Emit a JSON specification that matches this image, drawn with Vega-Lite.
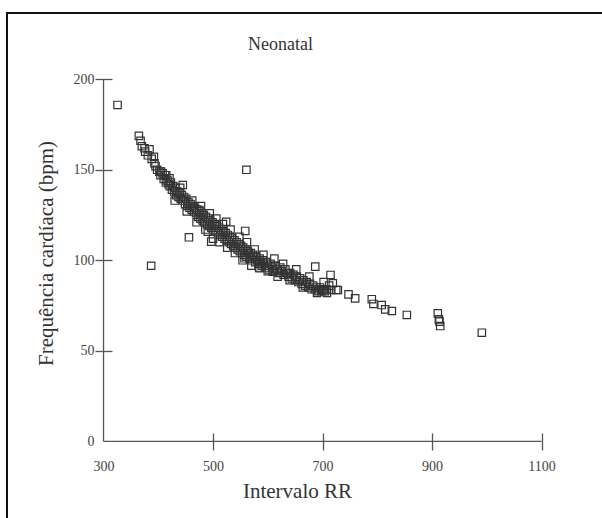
{
  "$schema": "https://vega.github.io/schema/vega-lite/v6.json",
  "width": 600,
  "height": 510,
  "autosize": "none",
  "padding": {"left": 7, "top": 13, "right": 0, "bottom": 0},
  "background": "white",
  "config": {
    "view": {"stroke": "#111", "strokeWidth": 2},
    "font": "Liberation Serif",
    "title": {"font": "Liberation Serif", "fontSize": 18, "fontWeight": "normal", "color": "#333"}
  },
  "title": {"text": "Neonatal", "anchor": "start", "dx": 241, "dy": 59, "baseline": "alphabetic"},
  "encoding": {
    "x": {
      "field": "rr", "type": "quantitative",
      "scale": {"domain": [123.7, 1219.6], "nice": false, "zero": false},
      "axis": {
        "orient": "bottom", "offset": -90, "values": [300, 500, 700, 900, 1100], "format": "d",
        "domain": false, "grid": false, "tickSize": 17, "tickColor": "#555", "tickWidth": 1.3,
        "tickOpacity": {"condition": {"test": "datum.value == 300", "value": 0}, "value": 1},
        "labelFont": "Liberation Serif", "labelFontSize": 14, "labelColor": "#444", "labelPadding": 9,
        "title": "Intervalo RR", "titleFont": "Liberation Serif", "titleFontSize": 21, "titleFontWeight": "normal", "titleColor": "#333",
        "titleX": 290, "titleY": 64, "titleBaseline": "alphabetic", "titleAlign": "center"
      }
    },
    "y": {
      "field": "hr", "type": "quantitative",
      "scale": {"domain": [-45.1, 236.6], "nice": false, "zero": false},
      "axis": {
        "orient": "left", "offset": -105, "values": [0, 50, 100, 150, 200], "format": "d",
        "domain": false, "grid": false, "tickSize": 17, "tickColor": "#555", "tickWidth": 1.3,
        "tickOpacity": {"condition": {"test": "datum.value == 0", "value": 0}, "value": 1},
        "labelFont": "Liberation Serif", "labelFontSize": 14, "labelColor": "#444", "labelPadding": 1,
        "title": "Frequência cardíaca (bpm)", "titleFont": "Liberation Serif", "titleFontSize": 21, "titleFontWeight": "normal", "titleColor": "#333",
        "titleX": -60, "titleY": 240, "titleBaseline": "alphabetic", "titleAlign": "center", "titleAngle": -90
      }
    }
  },
  "layer": [
    {
      "data": {"values": [
        {"rr": 300, "hr": 0, "rr2": 1100, "hr2": 0},
        {"rr": 300, "hr": 0, "rr2": 300, "hr2": 200}
      ]},
      "mark": {"type": "rule", "color": "#555", "strokeWidth": 1.3},
      "encoding": {"x2": {"field": "rr2"}, "y2": {"field": "hr2"}}
    },
    {
      "data": {"values": [
        {"rr": 325.6, "hr": 185.8}, {"rr": 561, "hr": 150}, {"rr": 387, "hr": 97}, {"rr": 456, "hr": 112.7}, {"rr": 991, "hr": 60},
        {"rr": 364.5, "hr": 168.7}, {"rr": 367.6, "hr": 166}, {"rr": 374.9, "hr": 161.9}, {"rr": 384, "hr": 161.3}, {"rr": 391.9, "hr": 157.2},
        {"rr": 388, "hr": 156}, {"rr": 393, "hr": 153.6}, {"rr": 405, "hr": 149}, {"rr": 414.5, "hr": 147}, {"rr": 420.5, "hr": 145.3}, {"rr": 444.8, "hr": 141.6},
        {"rr": 490.5, "hr": 115.8}, {"rr": 496.7, "hr": 110.3}, {"rr": 475, "hr": 127.8}, {"rr": 524, "hr": 121.3}, {"rr": 558.8, "hr": 116.2},
        {"rr": 557.5, "hr": 101.1}, {"rr": 585, "hr": 95.6}, {"rr": 609, "hr": 93.7}, {"rr": 686.7, "hr": 96.5}, {"rr": 658, "hr": 89}, {"rr": 636.7, "hr": 92.8},
        {"rr": 697.6, "hr": 83.6}, {"rr": 714.6, "hr": 91.9}, {"rr": 718.8, "hr": 87.3}, {"rr": 728, "hr": 83.6}, {"rr": 716, "hr": 83.6}, {"rr": 725, "hr": 83.6},
        {"rr": 747.5, "hr": 81.2}, {"rr": 759.6, "hr": 79}, {"rr": 790, "hr": 78.5}, {"rr": 793, "hr": 75.9}, {"rr": 808, "hr": 75.3}, {"rr": 814.5, "hr": 72.9},
        {"rr": 826.6, "hr": 72}, {"rr": 854, "hr": 69.8}, {"rr": 910.6, "hr": 70.7}, {"rr": 912.5, "hr": 67.4}, {"rr": 913.7, "hr": 66.1}, {"rr": 915, "hr": 63.7},
        {"rr": 370, "hr": 163}, {"rr": 376, "hr": 160}, {"rr": 381, "hr": 158}, {"rr": 395, "hr": 152}, {"rr": 398, "hr": 150}, {"rr": 402, "hr": 149},
        {"rr": 404, "hr": 147}, {"rr": 408, "hr": 148}, {"rr": 410, "hr": 145}, {"rr": 412, "hr": 147}, {"rr": 414, "hr": 143}, {"rr": 417, "hr": 144},
        {"rr": 419, "hr": 142}, {"rr": 421, "hr": 141}, {"rr": 423, "hr": 143}, {"rr": 425, "hr": 139}, {"rr": 427, "hr": 141}, {"rr": 429, "hr": 138},
        {"rr": 431, "hr": 140}, {"rr": 433, "hr": 136}, {"rr": 435, "hr": 138}, {"rr": 437, "hr": 135}, {"rr": 439, "hr": 137}, {"rr": 441, "hr": 134},
        {"rr": 443, "hr": 136}, {"rr": 445, "hr": 133}, {"rr": 447, "hr": 135}, {"rr": 449, "hr": 131}, {"rr": 451, "hr": 134}, {"rr": 453, "hr": 130},
        {"rr": 455, "hr": 132}, {"rr": 457, "hr": 129}, {"rr": 459, "hr": 131}, {"rr": 461, "hr": 128}, {"rr": 463, "hr": 130}, {"rr": 465, "hr": 127},
        {"rr": 467, "hr": 129}, {"rr": 469, "hr": 126}, {"rr": 471, "hr": 128}, {"rr": 473, "hr": 124}, {"rr": 475, "hr": 127}, {"rr": 477, "hr": 123},
        {"rr": 479, "hr": 126}, {"rr": 481, "hr": 122}, {"rr": 483, "hr": 125}, {"rr": 485, "hr": 121}, {"rr": 487, "hr": 124}, {"rr": 489, "hr": 120},
        {"rr": 491, "hr": 123}, {"rr": 493, "hr": 119}, {"rr": 495, "hr": 122}, {"rr": 497, "hr": 118}, {"rr": 499, "hr": 121}, {"rr": 501, "hr": 117},
        {"rr": 503, "hr": 120}, {"rr": 505, "hr": 116}, {"rr": 507, "hr": 119}, {"rr": 509, "hr": 115}, {"rr": 511, "hr": 118}, {"rr": 513, "hr": 114},
        {"rr": 515, "hr": 117}, {"rr": 517, "hr": 113}, {"rr": 519, "hr": 116}, {"rr": 521, "hr": 112}, {"rr": 523, "hr": 115}, {"rr": 525, "hr": 111},
        {"rr": 527, "hr": 114}, {"rr": 529, "hr": 110}, {"rr": 531, "hr": 113}, {"rr": 533, "hr": 109}, {"rr": 535, "hr": 112}, {"rr": 537, "hr": 108},
        {"rr": 539, "hr": 111}, {"rr": 541, "hr": 107}, {"rr": 543, "hr": 110}, {"rr": 545, "hr": 106}, {"rr": 547, "hr": 109}, {"rr": 549, "hr": 105},
        {"rr": 551, "hr": 108}, {"rr": 553, "hr": 104}, {"rr": 555, "hr": 107}, {"rr": 557, "hr": 103}, {"rr": 559, "hr": 106}, {"rr": 561, "hr": 102},
        {"rr": 563, "hr": 105}, {"rr": 565, "hr": 104}, {"rr": 567, "hr": 101}, {"rr": 569, "hr": 104}, {"rr": 571, "hr": 100}, {"rr": 573, "hr": 103},
        {"rr": 575, "hr": 102}, {"rr": 577, "hr": 99}, {"rr": 579, "hr": 102}, {"rr": 581, "hr": 100}, {"rr": 583, "hr": 98}, {"rr": 585, "hr": 101},
        {"rr": 587, "hr": 99}, {"rr": 589, "hr": 97}, {"rr": 591, "hr": 100}, {"rr": 593, "hr": 98}, {"rr": 595, "hr": 96}, {"rr": 597, "hr": 99},
        {"rr": 599, "hr": 97}, {"rr": 602, "hr": 95}, {"rr": 605, "hr": 98}, {"rr": 608, "hr": 96}, {"rr": 611, "hr": 94}, {"rr": 614, "hr": 97},
        {"rr": 617, "hr": 95}, {"rr": 620, "hr": 93}, {"rr": 623, "hr": 96}, {"rr": 626, "hr": 94}, {"rr": 629, "hr": 92}, {"rr": 632, "hr": 95},
        {"rr": 635, "hr": 93}, {"rr": 638, "hr": 91}, {"rr": 641, "hr": 93}, {"rr": 644, "hr": 90}, {"rr": 647, "hr": 92}, {"rr": 650, "hr": 89},
        {"rr": 653, "hr": 91}, {"rr": 656, "hr": 88}, {"rr": 659, "hr": 90}, {"rr": 662, "hr": 87}, {"rr": 665, "hr": 89}, {"rr": 668, "hr": 86},
        {"rr": 671, "hr": 88}, {"rr": 674, "hr": 85}, {"rr": 677, "hr": 87}, {"rr": 680, "hr": 84}, {"rr": 683, "hr": 86}, {"rr": 686, "hr": 84},
        {"rr": 689, "hr": 85}, {"rr": 692, "hr": 83}, {"rr": 695, "hr": 85}, {"rr": 698, "hr": 83}, {"rr": 701, "hr": 84}, {"rr": 704, "hr": 83},
        {"rr": 707, "hr": 84},
        {"rr": 430, "hr": 133}, {"rr": 440, "hr": 140}, {"rr": 452, "hr": 127}, {"rr": 462, "hr": 133}, {"rr": 470, "hr": 121}, {"rr": 478, "hr": 130},
        {"rr": 486, "hr": 117}, {"rr": 494, "hr": 126}, {"rr": 500, "hr": 112}, {"rr": 506, "hr": 123}, {"rr": 512, "hr": 110}, {"rr": 518, "hr": 120},
        {"rr": 526, "hr": 107}, {"rr": 532, "hr": 117}, {"rr": 540, "hr": 104}, {"rr": 548, "hr": 113}, {"rr": 554, "hr": 100}, {"rr": 562, "hr": 110},
        {"rr": 570, "hr": 97}, {"rr": 576, "hr": 106}, {"rr": 584, "hr": 96}, {"rr": 592, "hr": 103}, {"rr": 600, "hr": 94}, {"rr": 612, "hr": 101},
        {"rr": 618, "hr": 91}, {"rr": 628, "hr": 98}, {"rr": 640, "hr": 89}, {"rr": 652, "hr": 95}, {"rr": 664, "hr": 85}, {"rr": 676, "hr": 91},
        {"rr": 690, "hr": 82}, {"rr": 702, "hr": 88}, {"rr": 708, "hr": 82}, {"rr": 712, "hr": 86}
      ]},
      "mark": {"type": "point", "shape": "square", "filled": false, "size": 55, "stroke": "#333", "strokeWidth": 1.2, "opacity": 1}
    }
  ]
}
